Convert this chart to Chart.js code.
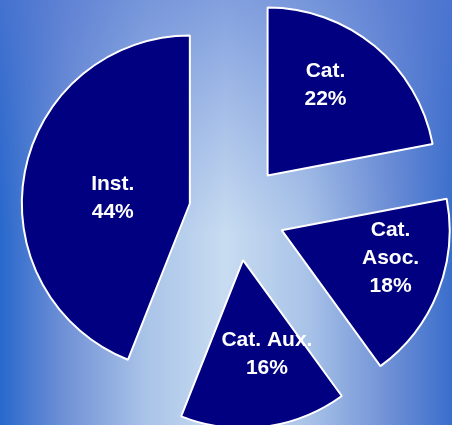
<!DOCTYPE html>
<html>
<head>
<meta charset="utf-8">
<title>Distribución</title>
<script src="https://cdn.jsdelivr.net/npm/chart.js"></script>
<style>
  html, body { margin: 0; padding: 0; }
  body {
    width: 452px; height: 425px; overflow: hidden;
    background:
      linear-gradient(to bottom, rgba(85,120,210,0.6) 0%, rgba(85,120,210,0.25) 30%, rgba(85,120,210,0) 55%),
      linear-gradient(to right, #2868cc 0%, #6f90d6 14%, #a9c3e8 32%, #c8dcf1 50%, #a9c3e8 68%, #6f90d6 86%, #3a6ecc 100%);
  }
  canvas { display: block; }
</style>
</head>
<body>
<canvas id="pie" width="452" height="425"></canvas>
<script>
// datos del gráfico
const labels = [['Cat.', '22%'], ['Cat.', 'Asoc.', '18%'], ['Cat. Aux.', '16%'], ['Inst.', '44%']];
const values = [22, 18, 16, 44];

// dónde va cada etiqueta dentro de su sector (fracción del radio)
const labelDist = [0.64, 0.67, 0.58, 0.46];

// separación de los sectores (px), igual para todos
const SHIFT = 48;

// el offset de Chart.js también cambia radio y ángulos, así que
// cada sector se desplaza a mano antes de dibujarse
const explode = {
  id: 'explode',
  afterUpdate(chart) {
    chart.getDatasetMeta(0).data.forEach(arc => {
      if (arc._exploded) return;
      const draw = arc.draw.bind(arc);
      arc.draw = function (ctx, area) {
        const mid = (this.startAngle + this.endAngle) / 2;
        ctx.save();
        ctx.translate(Math.cos(mid) * SHIFT, Math.sin(mid) * SHIFT);
        draw(ctx, area);
        ctx.restore();
      };
      arc._exploded = true;
    });
  }
};

const sliceLabels = {
  id: 'sliceLabels',
  afterDatasetsDraw(chart) {
    const ctx = chart.ctx;
    const arcs = chart.getDatasetMeta(0).data;
    const turn = -7 * Math.PI / 180;
    ctx.save();
    ctx.fillStyle = '#ffffff';
    ctx.font = 'bold 21px "Liberation Sans", Arial, sans-serif';
    ctx.textAlign = 'center';
    ctx.textBaseline = 'middle';
    arcs.forEach((arc, i) => {
      const p = arc.getProps(['x', 'y', 'startAngle', 'endAngle', 'outerRadius']);
      const mid = (p.startAngle + p.endAngle) / 2;
      const ax = p.x + Math.cos(mid) * SHIFT;
      const ay = p.y + Math.sin(mid) * SHIFT;
      const r = p.outerRadius * labelDist[i];
      const cx = ax + Math.cos(mid + turn) * r;
      const cy = ay + Math.sin(mid + turn) * r;
      const lines = labels[i];
      const lh = 28;
      lines.forEach((t, k) => {
        ctx.fillText(t, cx, cy + (k - (lines.length - 1) / 2) * lh);
      });
    });
    ctx.restore();
  }
};

new Chart(document.getElementById('pie'), {
  type: 'pie',
  data: {
    labels: labels.map(l => l.join(' ')),
    datasets: [{
      data: values,
      backgroundColor: '#000080',
      borderColor: '#ffffff',
      borderWidth: 2,
      radius: 168,
      clip: false
    }]
  },
  options: {
    responsive: false,
    animation: false,
    layout: { padding: { left: 22 } },
    plugins: {
      legend: { display: false },
      tooltip: { enabled: false }
    }
  },
  plugins: [explode, sliceLabels]
});
</script>
</body>
</html>
